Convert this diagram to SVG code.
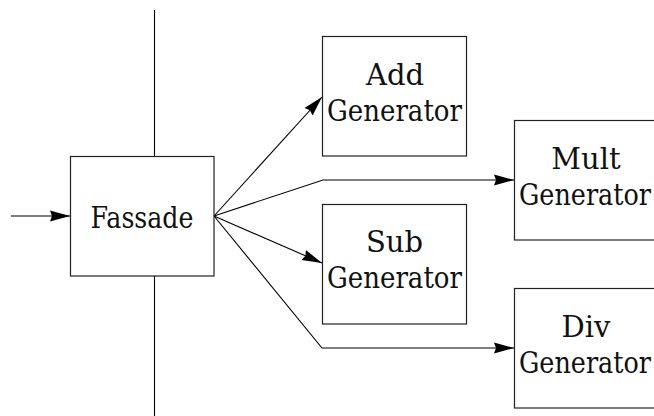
<svg xmlns="http://www.w3.org/2000/svg" width="654" height="416" viewBox="0 0 654 416">
<style>
.box{fill:#fff;stroke:#222;stroke-width:1.2}
.ln{fill:none;stroke:#000;stroke-width:1.1}
.t{font-family:"DejaVu Serif","Liberation Serif",serif;font-size:29px;fill:#111;text-anchor:middle}
</style>
<defs>
<marker id="ah" markerUnits="userSpaceOnUse" markerWidth="21" markerHeight="12" refX="20" refY="6" orient="auto" viewBox="0 0 21 12">
<path d="M0,0.5 L20,6 L0,11.5 L2,6 z" fill="#000"/>
</marker>
</defs>
<g id="connectors">
<line class="ln" x1="154.5" y1="10" x2="154.5" y2="156"/>
<line class="ln" x1="154.5" y1="276" x2="154.5" y2="416"/>
<line class="ln" x1="11" y1="216" x2="70" y2="216" marker-end="url(#ah)"/>
<line class="ln" x1="214" y1="216" x2="322" y2="97" marker-end="url(#ah)"/>
<polyline class="ln" points="214,216 323,180 514,180" marker-end="url(#ah)"/>
<line class="ln" x1="214" y1="216" x2="322" y2="263" marker-end="url(#ah)"/>
<polyline class="ln" points="214,216 322,348 514,348" marker-end="url(#ah)"/>
</g>
<g id="fassade">
<rect class="box" x="70.5" y="156.5" width="143.5" height="119.5"/>
<text class="t" x="142" y="228" textLength="103" lengthAdjust="spacingAndGlyphs">Fassade</text>
</g>
<g id="add">
<rect class="box" x="322.5" y="36.5" width="144" height="119.5"/>
<text class="t" x="395" y="85">Add</text>
<text class="t" x="394.5" y="121" textLength="135" lengthAdjust="spacingAndGlyphs">Generator</text>
</g>
<g id="mult">
<rect class="box" x="514.5" y="120.5" width="145" height="119.5"/>
<text class="t" x="586" y="169">Mult</text>
<text class="t" x="585" y="205" textLength="132" lengthAdjust="spacingAndGlyphs">Generator</text>
</g>
<g id="sub">
<rect class="box" x="322.5" y="204.5" width="144" height="119.5"/>
<text class="t" x="394.5" y="252">Sub</text>
<text class="t" x="394.5" y="288" textLength="135" lengthAdjust="spacingAndGlyphs">Generator</text>
</g>
<g id="div">
<rect class="box" x="514.5" y="288.5" width="145" height="119.5"/>
<text class="t" x="586" y="337">Div</text>
<text class="t" x="585" y="373" textLength="132" lengthAdjust="spacingAndGlyphs">Generator</text>
</g>
</svg>
